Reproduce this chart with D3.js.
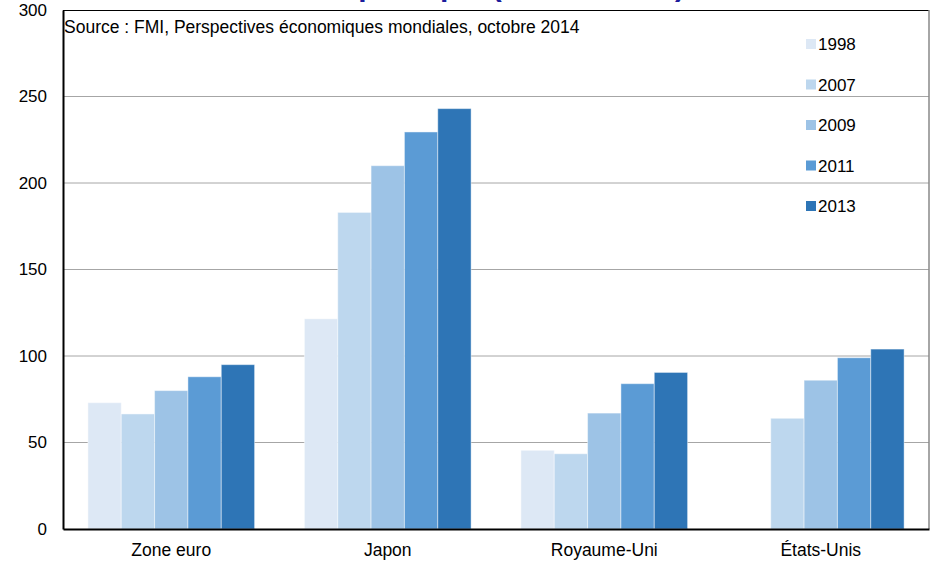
<!DOCTYPE html>
<html>
<head>
<meta charset="utf-8">
<script src="https://cdn.jsdelivr.net/npm/d3@7"></script>
<style>
  body { margin: 0; background: #fff; }
  svg { display: block; font-family: "Liberation Sans", Arial, sans-serif; }
</style>
</head>
<body>
<div id="chart"></div>
<script>
// Data
const categories = ["Zone euro", "Japon", "Royaume-Uni", "États-Unis"];
const years = ["1998", "2007", "2009", "2011", "2013"];
const v1998 = [73, 121.5, 45.5, null];
const v2007 = [66.5, 183, 43.5, 64];
const v2009 = [80, 210, 67, 86];
const v2011 = [88, 229.5, 84, 99];
const v2013 = [95, 243, 90.5, 104];
const yTicks = [0, 50, 100, 150, 200, 250, 300];
const colors = ["#dde8f5", "#bdd7ee", "#9dc3e6", "#5b9bd5", "#2e75b6"];

const seriesValues = [v1998, v2007, v2009, v2011, v2013];

const W = 932, H = 562;
const margin = { top: 10, right: 3, bottom: 33, left: 63 };
const width = W - margin.left - margin.right;
const height = H - margin.top - margin.bottom;

const svg = d3.select("#chart").append("svg")
  .attr("width", W)
  .attr("height", H);

// title, clipped at the top edge as in the original (only descenders show)
svg.append("text")
  .attr("x", 275)
  .attr("y", -4)
  .attr("font-size", 30)
  .attr("font-weight", "bold")
  .attr("fill", "#1c1c9c")
  .text("Dette publique (en % du PIB)");

const g = svg.append("g")
  .attr("transform", "translate(" + margin.left + "," + margin.top + ")");

const x0 = d3.scaleBand()
  .domain(categories)
  .range([0, width])
  .paddingInner(0.23)
  .paddingOuter(0.115);

const x1 = d3.scaleBand()
  .domain(years)
  .range([0, x0.bandwidth()]);

const y = d3.scaleLinear()
  .domain([0, 300])
  .range([height, 0]);

// gridlines
g.selectAll(".grid")
  .data(yTicks.filter(d => d > 0 && d < 300))
  .enter().append("line")
  .attr("x1", 0)
  .attr("x2", width)
  .attr("y1", d => y(d))
  .attr("y2", d => y(d))
  .attr("stroke", "#a6a6a6")
  .attr("stroke-width", 1);

// bars
const groups = g.selectAll(".group")
  .data(categories)
  .enter().append("g")
  .attr("transform", d => "translate(" + x0(d) + ",0)");

groups.selectAll("rect")
  .data((c, i) => years.map((yr, k) => ({ year: yr, value: seriesValues[k][i], k: k })))
  .enter()
  .filter(d => d.value !== null)
  .append("rect")
  .attr("x", d => x1(d.year))
  .attr("y", d => y(d.value))
  .attr("width", x1.bandwidth())
  .attr("height", d => height - y(d.value))
  .attr("fill", d => colors[d.k])
  .attr("stroke", "rgba(255,255,255,0.45)")
  .attr("stroke-width", 1);

// frame
g.append("line").attr("x1", 0).attr("x2", width).attr("y1", 0.5).attr("y2", 0.5)
  .attr("stroke", "#000").attr("stroke-width", 1);
g.append("line").attr("x1", width).attr("x2", width).attr("y1", 0).attr("y2", height)
  .attr("stroke", "#888").attr("stroke-width", 1.5);

// y axis
const yAxis = g.append("g")
  .call(d3.axisLeft(y).tickValues(yTicks).tickSize(0).tickPadding(16));
yAxis.select(".domain").attr("stroke", "#000").attr("stroke-width", 2);
yAxis.selectAll("text")
  .attr("font-size", 17)
  .attr("fill", "#000")
  .attr("font-family", "Liberation Sans, Arial, sans-serif");

// x axis
const xAxis = g.append("g")
  .attr("transform", "translate(0," + height + ")")
  .call(d3.axisBottom(x0).tickSize(0).tickPadding(15));
xAxis.select(".domain").attr("stroke", "#000").attr("stroke-width", 2);
xAxis.selectAll("text")
  .attr("font-size", 17.5)
  .attr("fill", "#000")
  .attr("font-family", "Liberation Sans, Arial, sans-serif");

// source note
g.append("text")
  .attr("x", 1)
  .attr("y", 23)
  .attr("font-size", 17.5)
  .attr("fill", "#000")
  .text("Source : FMI, Perspectives économiques mondiales, octobre 2014");

// legend
const legend = g.selectAll(".legend")
  .data(years)
  .enter().append("g")
  .attr("transform", (d, i) => "translate(" + (806 - margin.left) + "," + (39 + i * 40.5 - margin.top) + ")");

legend.append("rect")
  .attr("width", 10)
  .attr("height", 10)
  .attr("fill", (d, i) => colors[i]);

legend.append("text")
  .attr("x", 12)
  .attr("y", 11)
  .attr("font-size", 17)
  .attr("fill", "#000")
  .text(d => d);
</script>
</body>
</html>
